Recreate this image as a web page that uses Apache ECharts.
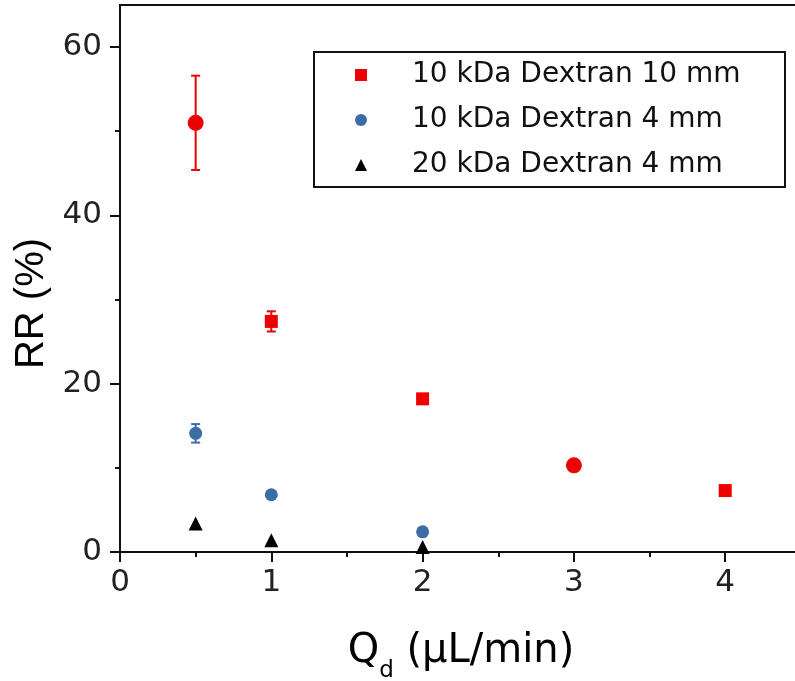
<!DOCTYPE html>
<html><head><meta charset="utf-8">
<script src="https://cdn.jsdelivr.net/npm/echarts@6/dist/echarts.min.js"></script>
<style>html,body{margin:0;padding:0;background:#fff}#c{width:795px;height:681px}</style>
</head><body><div id="c"></div>
<script>
const seriesNames = ['10 kDa Dextran 10 mm', '10 kDa Dextran 4 mm', '20 kDa Dextran 4 mm'];
const xRed = [0.5, 1, 2, 3, 4];
const yRed = [51.0, 27.4, 18.2, 10.3, 7.3];
const errRed = [5.6, 1.2, 0, 0, 0];
const xBlue = [0.5, 1, 2];
const yBlue = [14.1, 6.8, 2.4];
const errBlue = [1.1, 0, 0];
const xBlack = [0.5, 1, 2];
const yBlack = [3.4, 1.4, 0.6];
const errBlack = [0, 0, 0];
const xMajorTicks = [0, 1, 2, 3, 4];
const xMinorTicks = [0.5, 1.5, 2.5, 3.5];
const yMajorTicks = [0, 20, 40, 60];
const yMinorTicks = [10, 30, 50];
const redShapes = ['circle', 'rect', 'rect', 'circle', 'rect'];

const RED = '#ee0000', BLUE = '#3b6ea5', BLACK = '#000000', AX = '#111111';

function errSeries(xs, ys, errs, color, capHalf) {
  return {
    type: 'custom', xAxisIndex: 0, yAxisIndex: 0, z: 2, silent: true,
    data: xs.map((x, i) => [x, ys[i] - errs[i], ys[i] + errs[i]]),
    renderItem: function (params, api) {
      const x = api.value(0);
      const lo = api.coord([x, api.value(1)]);
      const hi = api.coord([x, api.value(2)]);
      if (Math.abs(hi[1] - lo[1]) < 0.5) return { type: 'group', children: [] };
      const st = { stroke: color, lineWidth: 2 };
      return { type: 'group', children: [
        { type: 'line', shape: { x1: lo[0], y1: lo[1], x2: hi[0], y2: hi[1] }, style: st },
        { type: 'line', shape: { x1: lo[0] - capHalf, y1: lo[1], x2: lo[0] + capHalf, y2: lo[1] }, style: st },
        { type: 'line', shape: { x1: hi[0] - capHalf, y1: hi[1], x2: hi[0] + capHalf, y2: hi[1] }, style: st }
      ]};
    }
  };
}

const chart = echarts.init(document.getElementById('c'));
chart.setOption({
  animation: false,
  backgroundColor: '#fff',
  grid: { left: 120, top: 5, right: -21, bottom: 129, show: true, borderColor: AX, borderWidth: 2, containLabel: false, outerBoundsMode: 'none' },
  legend: {
    data: seriesNames, orient: 'vertical', left: 314, top: 52,
    itemWidth: 12, itemHeight: 12, itemGap: 15,
    padding: [8, 5, 7, 41],
    borderColor: AX, borderWidth: 2, backgroundColor: '#fff',
    selectedMode: false,
    itemStyle: { opacity: 1 },
    textStyle: { fontFamily: 'DejaVu Sans', fontSize: 28, lineHeight: 30, color: '#111', width: 368, padding: [0, 0, 0, 40] }
  },
  xAxis: [
    {
      type: 'value', min: 0, max: 4.6, interval: 1, position: 'bottom',
      axisLine: { show: true, onZero: false, lineStyle: { color: AX, width: 2 } },
      axisTick: { show: true, customValues: xMajorTicks, length: 10, lineStyle: { color: AX, width: 2 } },
      axisLabel: { customValues: xMajorTicks, margin: 15, fontFamily: 'DejaVu Sans', fontSize: 31, color: '#222' },
      splitLine: { show: false },
      name: '{q|Q}{s|d}{q| (µL/min)}', nameLocation: 'middle', nameGap: 80,
      nameTextStyle: {
        fontFamily: 'DejaVu Sans', color: '#000', padding: [0, 14, 0, 0],
        rich: {
          q: { fontFamily: 'DejaVu Sans', fontSize: 40, lineHeight: 42, verticalAlign: 'top', color: '#000' },
          s: { fontFamily: 'DejaVu Sans', fontSize: 23, lineHeight: 23, verticalAlign: 'top', padding: [28, 0, 0, 0], color: '#000' }
        }
      }
    },
    {
      type: 'value', min: 0, max: 4.6, position: 'bottom',
      axisLine: { show: false, onZero: false },
      axisTick: { show: true, customValues: xMinorTicks, length: 5, lineStyle: { color: AX, width: 2 } },
      axisLabel: { show: false }, splitLine: { show: false }
    }
  ],
  yAxis: [
    {
      type: 'value', min: 0, max: 65, interval: 20, position: 'left',
      axisLine: { show: true, onZero: false, lineStyle: { color: AX, width: 2 } },
      axisTick: { show: true, customValues: yMajorTicks, length: 10, lineStyle: { color: AX, width: 2 } },
      axisLabel: { customValues: yMajorTicks, margin: 18, fontFamily: 'DejaVu Sans', fontSize: 31, color: '#222' },
      splitLine: { show: false },
      name: 'RR (%)', nameLocation: 'middle', nameGap: 64, nameRotate: 90,
      nameTextStyle: { fontFamily: 'Liberation Sans', fontSize: 40, color: '#000', padding: [0, 50, 0, 0] }
    },
    {
      type: 'value', min: 0, max: 65, position: 'left',
      axisLine: { show: false, onZero: false },
      axisTick: { show: true, customValues: yMinorTicks, length: 5, lineStyle: { color: AX, width: 2 } },
      axisLabel: { show: false }, splitLine: { show: false }
    }
  ],
  series: [
    errSeries(xRed, yRed, errRed, RED, 4.5),
    errSeries(xBlue, yBlue, errBlue, BLUE, 4.5),
    errSeries(xBlack, yBlack, errBlack, BLACK, 4.5),
    {
      type: 'scatter', name: seriesNames[0], symbol: 'rect', symbolSize: 13, z: 3, silent: true,
      itemStyle: { color: RED, opacity: 1 },
      data: xRed.map((x, i) => ({ value: [x, yRed[i]], symbol: redShapes[i], symbolSize: redShapes[i] === 'circle' ? 16 : 13 }))
    },
    {
      type: 'scatter', name: seriesNames[1], symbol: 'circle', symbolSize: 13, z: 3, silent: true,
      itemStyle: { color: BLUE, opacity: 1 },
      data: xBlue.map((x, i) => [x, yBlue[i]])
    },
    {
      type: 'scatter', name: seriesNames[2], symbol: 'triangle', symbolSize: 14, z: 3, silent: true,
      itemStyle: { color: BLACK, opacity: 1 },
      data: xBlack.map((x, i) => [x, yBlack[i]])
    }
  ]
});
</script></body></html>
